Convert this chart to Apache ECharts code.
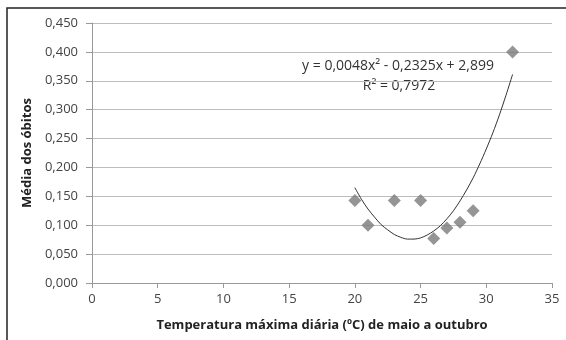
<!DOCTYPE html>
<html>
<head>
<meta charset="utf-8">
<script src="https://cdn.jsdelivr.net/npm/echarts@6/dist/echarts.min.js"></script>
<style>
  html, body { margin: 0; padding: 0; background: #fff; }
  #chart { width: 566px; height: 340px; }
</style>
</head>
<body>
<div id="chart"></div>
<script>
// pontos observados (temperatura, média dos óbitos)
var tempX = [20, 21, 23, 25, 26, 27, 28, 29, 32];
var mediaY = [0.143, 0.100, 0.143, 0.143, 0.077, 0.095, 0.105, 0.125, 0.400];

// linha de tendência
var trendX = [20, 20.5, 21, 21.5, 22, 22.5, 23, 23.5, 24, 24.5, 25, 25.5, 26, 26.5, 27, 27.5, 28, 28.5, 29, 29.5, 30, 30.5, 31, 31.5, 32];
var trendY = [0.165, 0.145, 0.128, 0.114, 0.101, 0.092, 0.084, 0.079, 0.076, 0.076, 0.078, 0.083, 0.090, 0.099, 0.111, 0.125, 0.142, 0.161, 0.182, 0.206, 0.232, 0.260, 0.291, 0.325, 0.361];

var eqText = 'y = 0,0048x² - 0,2325x + 2,899';
var r2Text = 'R² = 0,7972';

var pontos = tempX.map(function (x, i) { return [x, mediaY[i]]; });
var tendencia = trendX.map(function (x, i) { return [x, trendY[i]]; });

var chart = echarts.init(document.getElementById('chart'), null, { renderer: 'canvas' });
var fonte = '"Open Sans", "Liberation Sans", sans-serif';

chart.setOption({
    animation: false,
    grid: { left: 92, right: 14, top: 23, bottom: 57, containLabel: false },
    xAxis: {
        type: 'value',
        min: 0, max: 35, interval: 5,
        name: 'Temperatura máxima diária (ºC) de maio a outubro',
        nameLocation: 'middle',
        nameGap: 36,
        nameTextStyle: { fontFamily: fonte, fontSize: 13, fontWeight: 'bold', color: '#222' },
        axisLine: { lineStyle: { color: '#999' } },
        axisTick: { show: true, length: 5, lineStyle: { color: '#999' } },
        axisLabel: { fontFamily: fonte, fontSize: 13, color: '#444', margin: 10 },
        splitLine: { show: false }
    },
    yAxis: {
        type: 'value',
        min: 0, max: 0.45, interval: 0.05,
        name: 'Média dos óbitos',
        nameLocation: 'middle',
        nameGap: 58,
        nameTextStyle: { fontFamily: fonte, fontSize: 13, fontWeight: 'bold', color: '#222' },
        axisLine: { show: true, lineStyle: { color: '#999' } },
        axisTick: { show: true, length: 6, lineStyle: { color: '#999' } },
        axisLabel: {
            fontFamily: fonte, fontSize: 13, color: '#444', margin: 14,
            formatter: function (v) { return v.toFixed(3).replace('.', ','); }
        },
        splitLine: { lineStyle: { color: '#bdbdbd' } }
    },
    series: [{
        name: 'pontos',
        type: 'scatter',
        symbol: 'diamond',
        symbolSize: [13, 13],
        itemStyle: { color: '#7a7a7a' },
        data: pontos,
        z: 3
    }, {
        name: 'tendencia',
        type: 'line',
        smooth: 0.3,
        showSymbol: false,
        lineStyle: { color: '#333', width: 1 },
        data: tendencia,
        z: 2
    }],
    graphic: [{
        type: 'rect',
        shape: { x: 7, y: 8, width: 700, height: 500 },
        style: { fill: null, stroke: '#222', lineWidth: 1.5 },
        silent: true
    }, {
        type: 'text',
        x: 398, y: 66,
        style: { text: eqText, fontFamily: fonte, fontSize: 14, fill: '#333', align: 'center', verticalAlign: 'middle' }
    }, {
        type: 'text',
        x: 399, y: 86,
        style: { text: r2Text, fontFamily: fonte, fontSize: 14, fill: '#333', align: 'center', verticalAlign: 'middle' }
    }]
});
</script>
</body>
</html>
